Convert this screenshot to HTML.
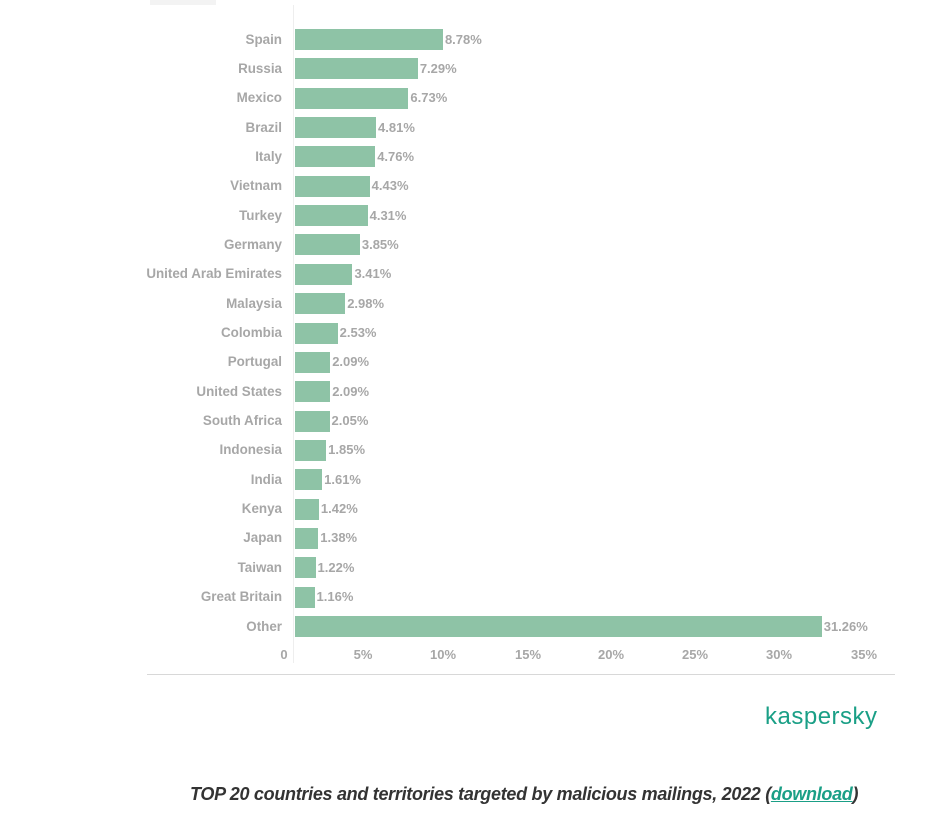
<!DOCTYPE html>
<html><head><meta charset="utf-8"><style>
body{margin:0;width:935px;height:819px;background:#fff;position:relative;overflow:hidden;font-family:"Liberation Sans",sans-serif}
.l{position:absolute;right:653px;font-size:13.4px;font-weight:bold;color:#a7a7a7;line-height:16px;white-space:nowrap}
.b{position:absolute;left:295px;height:21px;background:#8ec3a6}
.v{position:absolute;font-size:13px;font-weight:bold;color:#a7a7a7;line-height:16px}
.t{position:absolute;top:647px;font-size:13px;font-weight:bold;color:#a7a7a7;transform:translateX(-50%)}
</style></head><body>
<div style="position:absolute;left:150px;top:0;width:66px;height:5px;background:#f3f3f3"></div>
<div style="position:absolute;left:293px;top:5px;width:1px;height:658px;background:#eeeeee"></div>
<div id="c"></div>
<div style="position:absolute;left:147px;top:674px;width:748px;height:1px;background:#d8d8d8"></div>
<div style="position:absolute;left:765px;top:703px;font-size:24px;color:#1a9f86;letter-spacing:0.5px">kaspersky</div>
<div style="position:absolute;left:190px;top:784px;font-size:18px;font-weight:bold;font-style:italic;color:#333;white-space:nowrap;letter-spacing:-0.3px">TOP 20 countries and territories targeted by malicious mailings, 2022 (<span style="color:#1a9f86;text-decoration:underline">download</span>)</div>
<script>
var d=[["Spain",8.78],["Russia",7.29],["Mexico",6.73],["Brazil",4.81],["Italy",4.76],["Vietnam",4.43],["Turkey",4.31],["Germany",3.85],["United Arab Emirates",3.41],["Malaysia",2.98],["Colombia",2.53],["Portugal",2.09],["United States",2.09],["South Africa",2.05],["Indonesia",1.85],["India",1.61],["Kenya",1.42],["Japan",1.38],["Taiwan",1.22],["Great Britain",1.16],["Other",31.26]];
var h="";d.forEach(function(r,i){var c=39.5+i*29.35;var w=r[1]*16.85;
h+='<div class="l" style="top:'+(c-8)+'px">'+r[0]+'</div><div class="b" style="top:'+(c-10.5)+'px;width:'+w+'px"></div><div class="v" style="top:'+(c-8)+'px;left:'+(297+w)+'px">'+r[1].toFixed(2)+'%</div>';});
var tk=[["0",284],["5%",363],["10%",443],["15%",528],["20%",611],["25%",695],["30%",779],["35%",864]];
tk.forEach(function(t){h+='<div class="t" style="left:'+t[1]+'px">'+t[0]+'</div>';});
document.getElementById("c").innerHTML=h;
</script>
</body></html>
